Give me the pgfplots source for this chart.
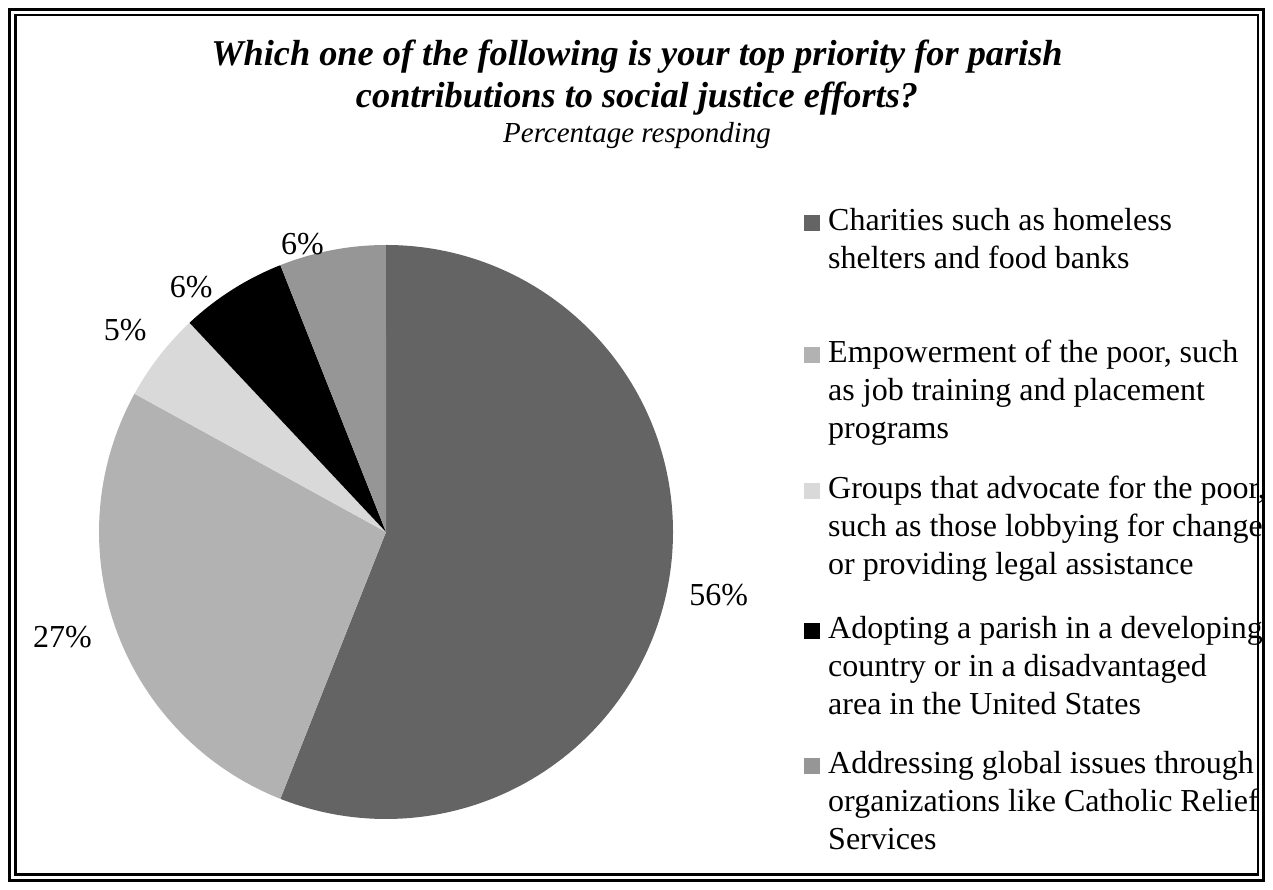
\documentclass[border=0pt]{standalone}
\usepackage{pgfplots}
\pgfplotsset{compat=1.18}
\usepackage{fontspec}
\setmainfont{Liberation Serif}
\definecolor{s1}{HTML}{646464}
\definecolor{s2}{HTML}{B2B2B2}
\definecolor{s3}{HTML}{D9D9D9}
\definecolor{s4}{HTML}{000000}
\definecolor{s5}{HTML}{969696}
% slice from cumulative percentage #1 to #2, clockwise from 12 o'clock
\newcommand\slice[3]{\fill[#3] (axis cs:0,0) -- (axis cs:{cos(90-3.6*#1)},{sin(90-3.6*#1)}) arc[start angle={90-3.6*#1}, end angle={90-3.6*#2}, radius=287pt] -- cycle;}
\newcommand\lab[3]{\node[font=\fontsize{32}{37}\selectfont, inner sep=0pt] at (axis cs:{#1*cos(90-3.6*#2)},{#1*sin(90-3.6*#2)}) {#3};}
\begin{document}
\begin{tikzpicture}[x=1pt,y=1pt]
\path (0,0) rectangle (1273,890);
\draw[line width=3pt] (9.5,9.5) rectangle (1263.5,880.5);
\draw[line width=2.5pt] (15.25,15.25) rectangle (1257.75,874.75);
% title
\node[anchor=base, inner sep=0pt, font=\fontsize{36.3}{41}\selectfont\bfseries\itshape] at (637,824) {Which one of the following is your top priority for parish};
\node[anchor=base, inner sep=0pt, font=\fontsize{36.3}{41}\selectfont\bfseries\itshape] at (637,782) {contributions to social justice efforts?};
\node[anchor=base, inner sep=0pt, font=\fontsize{29}{34}\selectfont\itshape] at (637,747) {Percentage responding};
\begin{axis}[at={(386pt,358pt)}, anchor=center, hide axis, scale only axis,
  width=574pt, height=574pt, xmin=-1, xmax=1, ymin=-1, ymax=1, clip=false]
\slice{0}{56}{s1}
\slice{56}{83}{s2}
\slice{83}{88}{s3}
\slice{88}{94}{s4}
\slice{94}{100}{s5}
\lab{1.18}{28}{56\%}
\lab{1.185}{70}{27\%}
\lab{1.15}{85.5}{5\%}
\lab{1.09}{89.3}{6\%}
\lab{1.045}{95.5}{6\%}
\end{axis}
% legend
\begin{scope}[every node/.style={anchor=base west, inner sep=0pt, font=\fontsize{32}{37}\selectfont}]
\fill[s1] (804,659) rectangle (820,675);
\node at (828,659) {Charities such as homeless};
\node at (828,621) {shelters and food banks};
\fill[s2] (804,527) rectangle (820,543);
\node at (828,527) {Empowerment of the poor, such};
\node at (828,489) {as job training and placement};
\node at (828,451) {programs};
\fill[s3] (804,391) rectangle (820,407);
\node at (828,391) {Groups that advocate for the poor,};
\node at (828,353) {such as those lobbying for change};
\node at (828,315) {or providing legal assistance};
\fill[s4] (804,251) rectangle (820,267);
\node at (828,251) {Adopting a parish in a developing};
\node at (828,213) {country or in a disadvantaged};
\node at (828,175) {area in the United States};
\fill[s5] (804,116) rectangle (820,132);
\node at (828,116) {Addressing global issues through};
\node at (828,78) {organizations like Catholic Relief};
\node at (828,40) {Services};
\end{scope}
\end{tikzpicture}
\end{document}
